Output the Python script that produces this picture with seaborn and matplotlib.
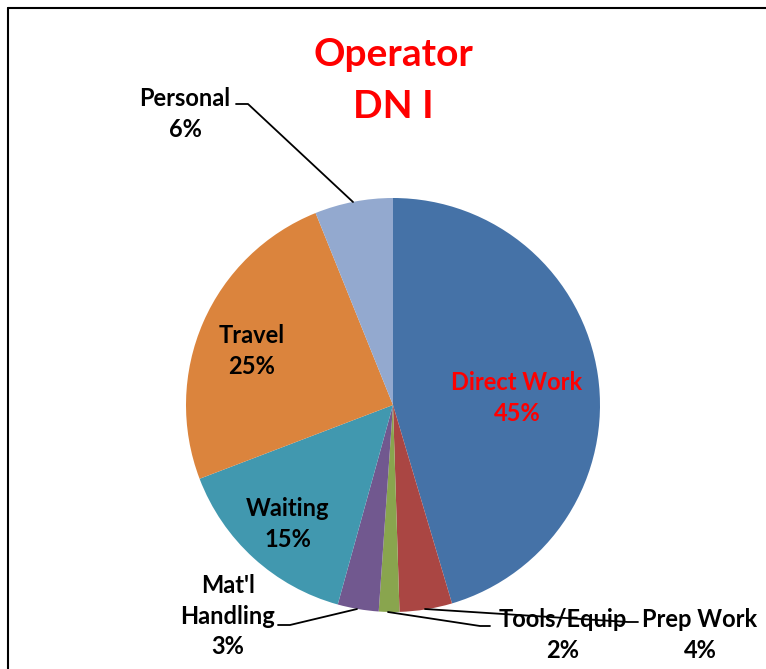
import matplotlib
matplotlib.use("Agg")
import matplotlib.pyplot as plt
import seaborn as sns

# slice shares (clockwise from 12 o'clock)
categories = ["Direct Work", "Prep Work", "Tools/Equip", "Mat'l\nHandling", "Waiting", "Travel", "Personal"]
shares = [45.4, 4.1, 1.6, 3.2, 14.9, 24.7, 6.1]
colors = ["#4572A7", "#AA4643", "#89A54E", "#71588F", "#4198AF", "#DB843D", "#93A9CF"]

sns.set_theme(style="white")
plt.rcParams["font.family"] = ["Lato", "DejaVu Sans"]

W, H = 766, 669
fig = plt.figure(figsize=(W / 100, H / 100), dpi=100)
ax = fig.add_axes([0, 0, 1, 1])


def Y(y):
    # picture rows run downwards, axes run upwards
    return H - y


cx, cy, r = 393, 405, 207
ax.pie(shares, colors=sns.color_palette(colors), startangle=90, counterclock=False,
       center=(cx, Y(cy)), radius=r, frame=True,
       wedgeprops=dict(linewidth=0))
ax.set_xlim(0, W)
ax.set_ylim(0, H)
ax.set_aspect("equal")
ax.axis("off")

# chart border (cut off at right and bottom)
ax.plot([7.5, 7.5], [Y(7.5), Y(H + 5)], color="black", lw=1.5, clip_on=False)
ax.plot([7.5, W + 5], [Y(7.5), Y(7.5)], color="black", lw=1.5, clip_on=False)

# title
ax.text(393, Y(55), "Operator", color="red", fontsize=28, fontweight="bold", ha="center", va="center")
ax.text(393, Y(106), "DN I", color="red", fontsize=28, fontweight="bold", ha="center", va="center")

# labels: position of label block centre
label_pos = [(517, 398), (700, 635), (563, 635), (228, 616), (288, 524), (252, 351), (185, 114)]
label_col = ["red", "black", "black", "black", "black", "black", "black"]
for cat, sh, (lx, ly), c in zip(categories, shares, label_pos, label_col):
    ax.text(lx, Y(ly), f"{cat}\n{sh:.0f}%", color=c, fontsize=17, fontweight="bold",
            ha="center", va="center", multialignment="center", linespacing=1.4)

# leader lines
leaders = [
    [(353, 202), (248, 104), (236, 104)],   # Personal
    [(357, 609), (290, 625), (278, 625)],   # Mat'l Handling
    [(388, 612), (480, 626), (490, 626)],   # Tools/Equip
    [(425, 609), (628, 622), (638, 622)],   # Prep Work
]
for pts in leaders:
    ax.plot([p[0] for p in pts], [Y(p[1]) for p in pts], color="black", lw=1.3)

fig.savefig("out.png", dpi=100)
